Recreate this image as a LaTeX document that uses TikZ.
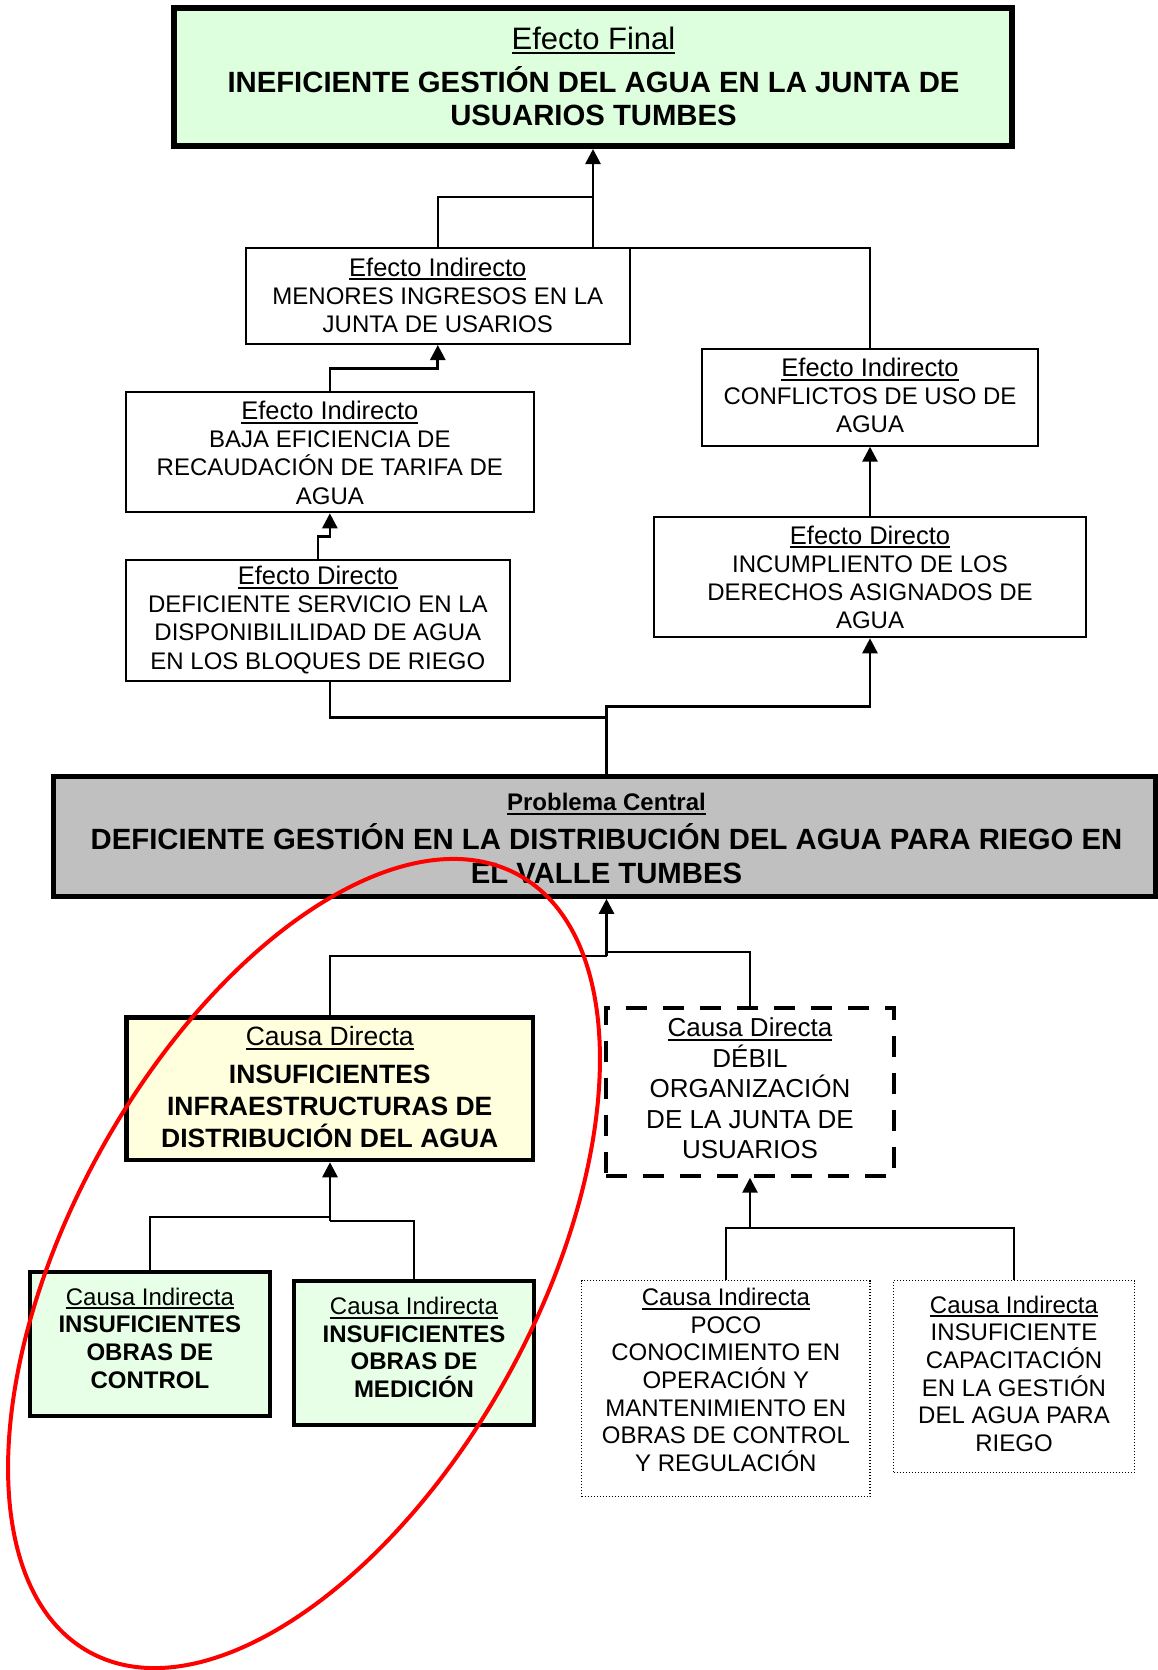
\documentclass[tikz,border=0pt]{standalone}
\usepackage{fontspec}
\setmainfont{Liberation Sans}
\usetikzlibrary{arrows.meta}
\definecolor{finalgreen}{RGB}{221,255,221}
\definecolor{ligreen}{RGB}{230,255,230}
\definecolor{liyellow}{RGB}{255,255,221}
\definecolor{probgrey}{RGB}{192,192,192}
\newcommand\ulx[1]{\setbox0=\hbox{#1}\rlap{\rule[-4.3pt]{\wd0}{2pt}}\box0}
\begin{document}
\begin{tikzpicture}[x=1pt,y=-1pt,line join=miter,
  bx/.style={draw,rectangle,inner sep=0pt,line width=2pt},
  tx/.style={align=center,inner sep=0pt},
  conn/.style={line width=2pt},
  thk/.style={line width=2.7pt},
  arr/.style={line width=2.7pt,-{Triangle[width=15pt,length=15pt]}},
  redring/.style={draw=red,line width=4pt},
  efbody/.style={tx,font={\fontsize{24}{28.2}\selectfont}},
  cibody/.style={tx,font={\fontsize{24}{27.7}\selectfont}}]
\useasboundingbox (0,0) rectangle (1158,1670);
\fill[white] (0,0) rectangle (1158,1670);
\clip (0,0) rectangle (1158,1670);

% boxes
\node[bx,line width=6pt,fill=finalgreen,minimum width=838pt,minimum height=138pt] (final) at (593,77) {};
\node[bx,minimum width=383.6pt,minimum height=96pt] (menores) at (437.8,296) {};
\node[bx,minimum width=336.6pt,minimum height=96.4pt] (conflictos) at (870,397.5) {};
\node[bx,minimum width=408.3pt,minimum height=120pt] (baja) at (329.85,452.3) {};
\node[bx,minimum width=384.3pt,minimum height=120.7pt] (edleft) at (317.85,620.35) {};
\node[bx,minimum width=432pt,minimum height=120pt] (edright) at (870,577.3) {};
\node[bx,line width=5pt,fill=probgrey,minimum width=1102pt,minimum height=119.8pt] (problema) at (604.5,836.4) {};
\node[bx,line width=4.5pt,fill=liyellow,minimum width=406.5pt,minimum height=142.5pt] (cdir) at (329.75,1088.75) {};
\node[bx,line width=4pt,dash pattern=on 21pt off 16pt,minimum width=288pt,minimum height=168pt] (debil) at (750,1091.7) {};
\node[bx,line width=4pt,fill=ligreen,minimum width=239.2pt,minimum height=143.5pt] (control) at (149.9,1343.75) {};
\node[bx,line width=4pt,fill=ligreen,minimum width=239.4pt,minimum height=143.7pt] (medicion) at (414,1352.85) {};
\node[bx,line width=1.3pt,dash pattern=on 1.3pt off 1.7pt,minimum width=288.3pt,minimum height=216pt] (poco) at (725.85,1388.7) {};
\node[bx,line width=1.3pt,dash pattern=on 1.3pt off 1.7pt,minimum width=241pt,minimum height=191.6pt] (capac) at (1014,1376.5) {};

% texts
\node[tx,font={\fontsize{29.3}{33.3}\selectfont\bfseries}] (finalt) at (593.5,76.7)
  {{\fontsize{31}{33.3}\selectfont\mdseries\ulx{Efecto Final}}\\[9.4pt]INEFICIENTE GESTIÓN DEL AGUA EN LA JUNTA DE\\USUARIOS TUMBES};
\node[efbody] (menorest) at (437.8,295.2)
  {{\fontsize{25.5}{28}\selectfont\ulx{Efecto Indirecto}}\\MENORES INGRESOS EN LA\\JUNTA DE USARIOS};
\node[efbody] (conflictost) at (870,395.4)
  {{\fontsize{25.5}{28}\selectfont\ulx{Efecto Indirecto}}\\CONFLICTOS DE USO DE\\AGUA};
\node[efbody] (bajat) at (329.85,452.7)
  {{\fontsize{25.5}{28}\selectfont\ulx{Efecto Indirecto}}\\BAJA EFICIENCIA DE\\RECAUDACIÓN DE TARIFA DE\\AGUA};
\node[efbody] (edleftt) at (317.85,619.9)
  {{\fontsize{25.5}{28}\selectfont\ulx{Efecto Directo}}\\DEFICIENTE SERVICIO EN LA\\DISPONIBILILIDAD DE AGUA\\EN LOS BLOQUES DE RIEGO};
\node[efbody] (edrightt) at (870,577.2)
  {{\fontsize{25.5}{28}\selectfont\ulx{Efecto Directo}}\\INCUMPLIENTO DE LOS\\DERECHOS ASIGNADOS DE\\AGUA};
\node[tx,font={\fontsize{29.3}{33.3}\selectfont\bfseries}] (problemat) at (606.5,838.25)
  {{\fontsize{24}{24}\selectfont\ulx{Problema Central}}\\[6pt]DEFICIENTE GESTIÓN EN LA DISTRIBUCIÓN DEL AGUA PARA RIEGO EN\\EL VALLE TUMBES};
\node[tx,font={\fontsize{26.5}{31.6}\selectfont\bfseries}] (cdirt) at (329.75,1086.9)
  {{\mdseries\ulx{Causa Directa}}\\[6.7pt]INSUFICIENTES\\INFRAESTRUCTURAS DE\\DISTRIBUCIÓN DEL AGUA};
\node[tx,font={\fontsize{26}{30.6}\selectfont}] (debilt) at (750,1088.3)
  {\ulx{Causa Directa}\\DÉBIL\\ORGANIZACIÓN\\DE LA JUNTA DE\\USUARIOS};
\node[tx,font={\fontsize{24}{27.8}\selectfont\bfseries}] (controlt) at (149.9,1338.25)
  {{\mdseries\ulx{Causa Indirecta}}\\INSUFICIENTES\\OBRAS DE\\CONTROL};
\node[tx,font={\fontsize{24}{27.8}\selectfont\bfseries}] (mediciont) at (414,1347.4)
  {{\mdseries\ulx{Causa Indirecta}}\\INSUFICIENTES\\OBRAS DE\\MEDICIÓN};
\node[cibody] (pocot) at (725.85,1380)
  {\ulx{Causa Indirecta}\\POCO\\CONOCIMIENTO EN\\OPERACIÓN Y\\MANTENIMIENTO EN\\OBRAS DE CONTROL\\Y REGULACIÓN};
\node[cibody] (capact) at (1014,1373.75)
  {\ulx{Causa Indirecta}\\INSUFICIENTE\\CAPACITACIÓN\\EN LA GESTIÓN\\DEL AGUA PARA\\RIEGO};

% connectors, upper part
\coordinate (j1) at (593,197);
\coordinate (j2) at (593,248);
\draw[conn] (menores.north) |- (j1);
\draw[conn] (conflictos.north) |- (j2);
\draw[arr] (j2) -- (final.south);
\draw[arr] (baja.north) -- ++(0,-23) -| (menores.south);
\draw[arr] (edleft.north) -- ++(0,-22.7) -| (baja.south);
\draw[arr] (edright.north) -- (conflictos.south);
\coordinate (ptop) at (606.5,776.5);
\coordinate (k1) at (606.5,706.7);
\coordinate (k2) at (606.5,717.3);
\coordinate (edlb) at (330,680.7);
\draw[arr] (ptop) -- (k1) -| (edright.south);
\draw[thk] (edlb) |- (k2);

% connectors, lower part
\coordinate (pb1) at (606.5,956);
\coordinate (pb2) at (606.5,951.7);
\draw[arr] (pb1) -- (pb1 |- problema.south);
\draw[conn] (cdir.north) |- (pb1);
\draw[conn] (debil.north) |- (pb2);
\coordinate (cb1) at (330,1220.7);
\coordinate (cb2) at (330,1216.7);
\draw[arr] (cb1) -- (cb1 |- cdir.south);
\draw[conn] (control.north) |- (cb2);
\draw[conn] (medicion.north) |- (cb1);
\coordinate (db1) at (750,1228.3);
\draw[arr] (db1) -- (debil.south);
\draw[conn] (poco.north) |- (db1);
\draw[conn] (capac.north) |- (db1);

% red ring
\draw[redring,rotate around={61.07:(304,1263.5)}] (304,1263.5) ellipse [x radius=443.9, y radius=232.7];
\end{tikzpicture}
\end{document}
